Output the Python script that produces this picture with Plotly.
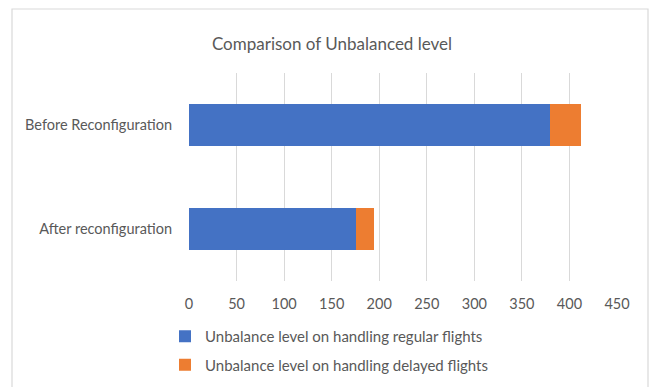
import plotly.graph_objects as go

# Chart data
categories = ["Before Reconfiguration", "After reconfiguration"]
regular_flights = [380, 176]
delayed_flights = [32, 18]
series_names = [
    "Unbalance level on handling regular flights",
    "Unbalance level on handling delayed flights",
]
x_ticks = [0, 50, 100, 150, 200, 250, 300, 350, 400, 450]

BLUE = "#4472C4"
ORANGE = "#ED7D31"
TEXT = "#595959"
GRID = "#D9D9D9"
FONT = "Lato, 'Open Sans', sans-serif"

W, H = 650, 387
L, R, T, B = 189, 33, 73, 106
plot_w = W - L - R
plot_h = H - T - B

fig = go.Figure()
fig.add_trace(go.Bar(
    y=categories, x=regular_flights, orientation="h",
    name=series_names[0], marker=dict(color=BLUE, line=dict(width=0)),
    legendgroup="a",
))
fig.add_trace(go.Bar(
    y=categories, x=delayed_flights, orientation="h",
    name=series_names[1], marker=dict(color=ORANGE, line=dict(width=0)),
    legendgroup="b",
))


def px_x(p):
    return (p - L) / plot_w


def px_y(p):
    return (H - B - p) / plot_h


# outer chart frame (bottom edge runs past the page)
fig.add_shape(
    type="rect", xref="paper", yref="paper",
    x0=px_x(12), x1=px_x(648), y0=px_y(440), y1=px_y(9),
    line=dict(color=GRID, width=1.2), fillcolor="rgba(0,0,0,0)", layer="below",
)

fig.update_layout(
    width=W, height=H,
    margin=dict(l=L, r=R, t=T, b=B, autoexpand=False),
    paper_bgcolor="white", plot_bgcolor="white",
    barmode="stack", bargap=0.59,
    font=dict(family=FONT, color=TEXT, size=14.5),
    title=dict(
        text="Comparison of Unbalanced level",
        x=332 / W, xref="container", xanchor="center",
        y=1 - 44 / H, yref="container", yanchor="middle",
        font=dict(size=17, color=TEXT, family=FONT),
    ),
    xaxis=dict(
        range=[0, 450], tickvals=x_ticks, ticktext=[str(v) for v in x_ticks],
        showgrid=True, gridcolor=GRID, gridwidth=1, zeroline=False,
        showline=False, ticks="", ticklabelstandoff=12,
        tickfont=dict(size=14.5, color=TEXT),
        fixedrange=True,
    ),
    yaxis=dict(
        categoryorder="array", categoryarray=categories[::-1],
        showgrid=False, zeroline=False, showline=False, ticks="",
        ticklabelstandoff=16, tickfont=dict(size=14.5, color=TEXT),
        fixedrange=True,
    ),
    legend=dict(
        orientation="v", x=px_x(165), xanchor="left",
        y=px_y(320), yanchor="top",
        traceorder="grouped", tracegroupgap=6,
        font=dict(size=15, color=TEXT, family=FONT),
        itemwidth=30, bgcolor="rgba(0,0,0,0)",
    ),
    showlegend=True,
)

fig.write_html("out.html")
